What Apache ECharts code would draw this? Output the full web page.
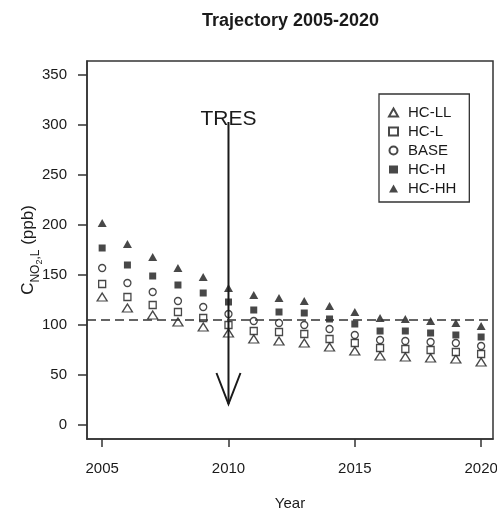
<!DOCTYPE html>
<html>
<head>
<meta charset="utf-8">
<script src="https://cdn.jsdelivr.net/npm/echarts@6/dist/echarts.min.js"></script>
<style>
  html, body { margin: 0; padding: 0; background: #fff; }
  #chart { width: 497px; height: 513px; }
</style>
</head>
<body>
<div id="chart"></div>
<script>
// NO2 concentration trajectories per scenario, 2005-2020
const years = [2005, 2006, 2007, 2008, 2009, 2010, 2011, 2012, 2013, 2014, 2015, 2016, 2017, 2018, 2019, 2020];
const hcLL  = [128, 117, 110, 103,  98,  92,  86,  84,  82,  78,  74,  69,  68,  67,  66,  63];
const hcL   = [141, 128, 120, 113, 107, 100,  94,  93,  91,  86,  82,  77,  76,  75,  73,  71];
const base  = [157, 142, 133, 124, 118, 111, 104, 102, 100,  96,  90,  85,  84,  83,  82,  79];
const hcH   = [177, 160, 149, 140, 132, 123, 115, 113, 112, 106, 101,  94,  94,  92,  90,  88];
const hcHH  = [202, 181, 168, 157, 148, 137, 130, 127, 124, 119, 113, 107, 106, 104, 102,  99];

const xTicks = [2005, 2010, 2015, 2020];
const yTicks = [0, 50, 100, 150, 200, 250, 300, 350];

// limit value (dashed) and TRES annotation: [year, arrow start, arrow tip, label y]
const limitValue = 105;
const tresArrow = [[2010, 303, 21, 306]];
const tresLabel = 'TRES';

const FONT = '"Liberation Sans", Arial, Helvetica, sans-serif';
const INK = '#1a1a1a';

function pairs(vals) { return years.map((y, i) => [y, vals[i]]); }

function scatter(name, vals, symbol, size, hollow) {
  return {
    name, type: 'scatter', data: pairs(vals), symbol, symbolSize: size,
    itemStyle: hollow
      ? { color: '#fff', borderColor: INK, borderWidth: 1.3 }
      : { color: INK, borderWidth: 0 },
    emphasis: { disabled: true },
    z: 3
  };
}

const chart = echarts.init(document.getElementById('chart'), null, { renderer: 'canvas' });

chart.setOption({
  animation: false,
  backgroundColor: '#fff',
  textStyle: { fontFamily: FONT, color: INK },
  title: {
    text: 'Trajectory 2005-2020',
    left: 202, top: 12, padding: 0,
    textStyle: { fontFamily: FONT, fontSize: 18, fontWeight: 'bold', color: INK }
  },
  grid: {
    left: 87, right: 4, top: 61, bottom: 74,
    outerBoundsMode: 'none',
    show: true, borderColor: '#333', borderWidth: 1.5, backgroundColor: 'transparent'
  },
  legend: {
    orient: 'vertical',
    left: 379, top: 94,
    padding: [11, 13, 6, 9],
    itemGap: 4,
    itemWidth: 9, itemHeight: 8,
    borderColor: '#333', borderWidth: 1.3,
    data: ['HC-LL', 'HC-L', 'BASE', 'HC-H', 'HC-HH'],
    textStyle: { fontFamily: FONT, fontSize: 15, color: INK, lineHeight: 15, padding: [0, 0, 0, 5] }
  },
  xAxis: {
    type: 'value', min: 2004.4, max: 2020.47,
    name: 'Year', nameLocation: 'middle', nameGap: 57,
    nameTextStyle: { fontFamily: FONT, fontSize: 15, color: INK },
    axisLine: { show: true, onZero: false, lineStyle: { color: '#333', width: 1.5 } },
    axisTick: { show: true, length: 8, customValues: xTicks, lineStyle: { color: '#333', width: 1.5 } },
    axisLabel: { customValues: xTicks, margin: 22, fontFamily: FONT, fontSize: 15, color: INK,
                 formatter: v => String(v) },
    splitLine: { show: false }
  },
  yAxis: {
    type: 'value', min: -14, max: 364,
    name: '{c|C}{s|NO}{ss|2}{s|,L}{n| (ppb)}',
    nameLocation: 'middle', nameRotate: 90, nameGap: 49, nameMoveOverlap: false,
    nameTextStyle: {
      fontFamily: FONT, color: INK,
      rich: {
        c:  { fontFamily: FONT, fontSize: 17, lineHeight: 18, verticalAlign: 'top', color: INK },
        s:  { fontFamily: FONT, fontSize: 12, lineHeight: 12, padding: [10, 0, 0, 0], verticalAlign: 'top', color: INK },
        ss: { fontFamily: FONT, fontSize: 9, lineHeight: 9, padding: [15, 0, 0, 0], verticalAlign: 'top', color: INK },
        n:  { fontFamily: FONT, fontSize: 17, lineHeight: 18, verticalAlign: 'top', color: INK }
      }
    },
    axisLine: { show: true, onZero: false, lineStyle: { color: '#333', width: 1.5 } },
    axisTick: { show: true, length: 9, customValues: yTicks, lineStyle: { color: '#333', width: 1.5 } },
    axisLabel: { customValues: yTicks, margin: 20, fontFamily: FONT, fontSize: 15, color: INK },
    splitLine: { show: false }
  },
  series: [
    scatter('HC-LL', hcLL, 'triangle', [10, 8], true),
    scatter('HC-L', hcL, 'rect', 7, true),
    scatter('BASE', base, 'circle', 7, true),
    scatter('HC-H', hcH, 'rect', 7, false),
    Object.assign(scatter('HC-HH', hcHH, 'triangle', [9, 8], false), {
      markLine: {
        silent: true, symbol: 'none', label: { show: false },
        lineStyle: { color: '#333', width: 1.5, type: [9, 5] },
        data: [{ yAxis: limitValue }]
      }
    }),
    {
      name: 'TRES', type: 'custom', data: tresArrow, z: 4,
      renderItem: function (params, api) {
        const start = api.coord([api.value(0), api.value(1)]);
        const tip = api.coord([api.value(0), api.value(2)]);
        const lab = api.coord([api.value(0), api.value(3)]);
        return {
          type: 'group',
          children: [
            { type: 'line', shape: { x1: start[0], y1: start[1], x2: tip[0], y2: tip[1] },
              style: { stroke: INK, lineWidth: 2 } },
            { type: 'polyline', shape: { points: [[tip[0] - 12, tip[1] - 31], [tip[0], tip[1]], [tip[0] + 12, tip[1] - 31]] },
              style: { stroke: INK, lineWidth: 2, fill: null } },
            { type: 'text', x: lab[0], y: lab[1],
              style: { text: tresLabel, fontFamily: FONT, fontSize: 21, fill: INK, align: 'center', verticalAlign: 'middle' } }
          ]
        };
      }
    }
  ]
});
</script>
</body>
</html>
